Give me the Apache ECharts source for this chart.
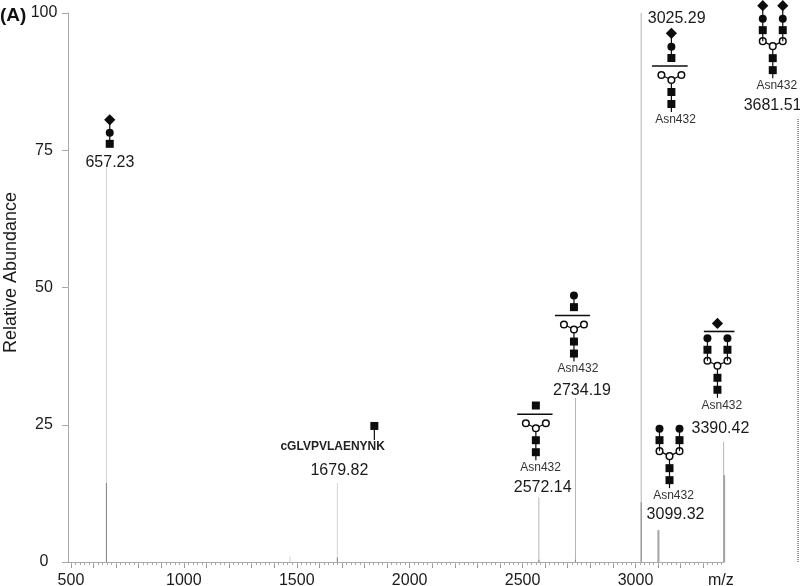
<!DOCTYPE html>
<html>
<head>
<meta charset="utf-8">
<style>html,body{margin:0;padding:0;background:#fff}#c{width:800px;height:586px}</style>
<script src="https://cdn.jsdelivr.net/npm/echarts@6/dist/echarts.min.js"></script>
</head>
<body>
<div id="c"></div>
<script>
// ---- data ----
const allMz       = [657.23, 1679.82, 2572.14, 2734.19, 3025.29, 3099.32, 3390.42];
const allTop      = [71.8, 14.4, 11.8, 29.9, 100, 5.8, 21.9];
const faintMz     = [657.23, 1679.82];
const faintTop    = [71.8, 14.4];
const plainMz     = [2572.14, 2734.19, 3025.29, 3390.42];
const plainTop    = [11.8, 29.9, 100, 21.9];
const baseMz      = [657.23, 1679.82, 2572.14, 2734.19, 3025.29];
const baseTop     = [14.4, 0.8, 0.4, 0.4, 10.9];
const thickMz     = [3099.32, 3390.42];
const thickTop    = [5.8, 15.8];
const minorMz     = [1470];
const minorTop    = [1.0];
const brokenMz    = [3681.51];
const brokenTop   = [80.9];
const peakLabels  = ['657.23','1679.82','2572.14','2734.19','3025.29','3099.32','3390.42','3681.51'];
const xTickLabels = [500, 1000, 1500, 2000, 2500, 3000];
const siteName    = 'Asn432';
const peptideName = 'cGLVPVLAENYNK';
const glycanKinds = ['linear','peptide','coreSq','coreSqCirc','coreFull','bi','biDia','biDiaDia'];

// ---- annotation layout (pixel offsets from each peak's top) ----
const layout = [
  {g:[3.3,-16],  label:[3.5,-5.5]},
  {g:[37,-43],   label:[2,-12.5], pep:[-4.7,-36]},
  {g:[-3,-37],   label:[3.8,-9.8], site:[1.7,-29.3], bar:[-18.7,16.7]},
  {g:[-1.5,-36.3], label:[6.5,-6.8], site:[2.5,-29], bar:[-19,16]},
  {g:[30.2,99],  label:[35.5,5.2], site:[34.3,107], bar:[-19.4,16.3]},
  {g:[11.6,-42], label:[17.6,-15.2], site:[15.6,-34], bar:[0,0]},
  {g:[-6.2,-44], label:[-3.2,-13.2], site:[-1.8,-36.3], bar:[-13.6,17]},
  {g:[-25.3,-39.7], label:[-25.5,-11.8], site:[-21.3,-32]}
];

const INK = '#0c0c0c';
const square = (x,y) => ({type:'rect',shape:{x:x-4,y:y-4,width:8,height:8},style:{fill:INK}});
const dot = (x,y) => ({type:'circle',shape:{cx:x,cy:y,r:4},style:{fill:INK}});
const ring = (x,y) => ({type:'circle',shape:{cx:x,cy:y,r:3.3},style:{fill:'#fff',stroke:INK,lineWidth:1.5}});
const dia = (x,y) => ({type:'polygon',shape:{points:[[x,y-5.6],[x+5.6,y],[x,y+5.6],[x-5.6,y]]},style:{fill:INK}});
const seg = (a,b,c,d,w) => ({type:'line',shape:{x1:a,y1:b,x2:c,y2:d},style:{stroke:INK,lineWidth:w||1.2}});
const txt = (s,x,y,size,weight,fill) => ({type:'text',style:{text:s,x:x,y:y,fontSize:size,fontWeight:weight||'normal',
  fontFamily:"'Liberation Sans',Arial,sans-serif",fill:fill||'#1a1a1a',align:'center',verticalAlign:'middle'}});

function core(x,y){
  return [
    seg(x,y,x,y-32), seg(x,y-32,x-10,y-37), seg(x,y-32,x+10,y-37),
    square(x,y-8), square(x,y-20), ring(x,y-32), ring(x-10,y-37), ring(x+10,y-37)
  ];
}
function arms(x,y,topDia){
  const out = [];
  [-10,10].forEach(d=>{
    out.push(seg(x+d,y-37,x+d,y-(topDia?72:59)), square(x+d,y-48), dot(x+d,y-59.5));
    if(topDia) out.push(dia(x+d,y-72.5));
  });
  return out;
}
function glycan(kind,x,y,L){
  let e = [];
  const bar = () => seg(x+L.bar[0],y-46,x+L.bar[1],y-46,1.6);
  if(kind==='linear'){
    e=[seg(x,y-8,x,y-32),square(x,y-8),dot(x,y-19),dia(x,y-32)];
  }else if(kind==='peptide'){
    e=[seg(x,y,x,y-14),square(x,y-14)];
  }else if(kind==='coreSq'){
    e=core(x,y).concat([bar(),square(x,y-54.7)]);
  }else if(kind==='coreSqCirc'){
    e=core(x,y).concat([bar(),seg(x,y-54,x,y-66),square(x,y-54.4),dot(x,y-66)]);
  }else if(kind==='coreFull'){
    e=core(x,y).concat([bar(),seg(x,y-54,x,y-79),square(x,y-54),dot(x,y-65.3),dia(x,y-78.7)]);
  }else if(kind==='bi'){
    e=core(x,y).concat(arms(x,y,false));
  }else if(kind==='biDia'){
    e=core(x,y).concat(arms(x,y,false),[seg(x+L.bar[0],y-66.3,x+L.bar[1],y-66.3,1.6),dia(x,y-74.3)]);
  }else if(kind==='biDiaDia'){
    e=core(x,y).concat(arms(x,y,true));
  }
  return e;
}
function renderAnnot(params,api){
  const i = api.value(2);
  const p = api.coord([api.value(0),api.value(1)]);
  const L = layout[i];
  const kids = glycan(glycanKinds[i],p[0]+L.g[0],p[1]+L.g[1],L);
  kids.push(txt(peakLabels[i],p[0]+L.label[0],p[1]+L.label[1],16));
  if(L.site) kids.push(txt(siteName,p[0]+L.site[0],p[1]+L.site[1],12,'normal','#333'));
  if(L.pep) kids.push(txt(peptideName,p[0]+L.pep[0],p[1]+L.pep[1],12,'bold','#222'));
  return {type:'group',children:kids};
}

const majorTicks = [], minorTicks = [];
for(let v=500;v<=3300;v+=100) majorTicks.push(v);
for(let v=500;v<=3380;v+=20) minorTicks.push(v);

const AXIS = '#a8a8a8';
const FONT = "'Liberation Sans',Arial,sans-serif";
const chart = echarts.init(document.getElementById('c'),null,{renderer:'canvas'});
const pairs = (a,b) => a.map((m,i)=>[m,b[i]]);
const stick = (name,xs,ys,color,width) => ({type:'bar',name:name,xAxisIndex:0,yAxisIndex:0,barWidth:width,barGap:'-100%',
  itemStyle:{color:color},data:pairs(xs,ys)});
chart.setOption({
  animation:false,
  backgroundColor:'#fff',
  grid:[
    {left:68,width:656,top:13,height:549,outerBoundsMode:'none',containLabel:false},
    {left:724,width:77,top:13,height:549,outerBoundsMode:'none',containLabel:false}
  ],
  xAxis:[
    {type:'value',gridIndex:0,position:'bottom',min:487,max:3392,splitLine:{show:false},
     axisLine:{lineStyle:{color:AXIS}},
     axisTick:{customValues:majorTicks,length:6,lineStyle:{color:'#999'}},
     axisLabel:{customValues:xTickLabels,margin:11,fontSize:16,fontFamily:FONT,color:'#1a1a1a',formatter:v=>String(v),hideOverlap:false}},
    {type:'value',gridIndex:0,position:'bottom',min:487,max:3392,splitLine:{show:false},
     axisLine:{show:false},
     axisTick:{customValues:minorTicks,length:3,lineStyle:{color:'#aaa'}},
     axisLabel:{show:false}},
    {type:'value',gridIndex:1,min:3392,max:3693,show:false}
  ],
  yAxis:[
    {type:'value',gridIndex:0,min:0,max:100,interval:25,splitLine:{show:false},
     name:'Relative Abundance',nameLocation:'middle',nameGap:48,
     nameTextStyle:{fontSize:18,fontFamily:FONT,color:'#1a1a1a',padding:[0,0,0,30]},
     axisLine:{show:true,lineStyle:{color:AXIS}},
     axisTick:{show:true,length:6,lineStyle:{color:AXIS}},
     axisLabel:{margin:24,align:'center',fontSize:16,fontFamily:FONT,color:'#1a1a1a'}},
    {type:'value',gridIndex:1,min:0,max:100,show:false}
  ],
  series:[
    stick('faint',faintMz,faintTop,'#d4d4d4',1),
    stick('plain',plainMz,plainTop,'#b4b4b4',1),
    stick('base',baseMz,baseTop,'#858585',1),
    stick('thick',thickMz,thickTop,'#a4a4a4',2),
    stick('minor',minorMz,minorTop,'#cfcfcf',1),
    {type:'line',name:'broken',xAxisIndex:2,yAxisIndex:1,symbol:'none',
     lineStyle:{color:'#333',width:1,type:[1,1]},
     data:[[brokenMz[0],0],[brokenMz[0],brokenTop[0]]]},
    {type:'custom',xAxisIndex:0,yAxisIndex:0,renderItem:renderAnnot,data:allMz.map((m,i)=>[m,allTop[i],i]),silent:true,z:5},
    {type:'custom',xAxisIndex:2,yAxisIndex:1,renderItem:renderAnnot,data:[[brokenMz[0],brokenTop[0],7]],silent:true,z:5}
  ],
  graphic:[
    {type:'text',left:0,top:6,style:{text:'(A)',fontSize:19,fontWeight:'bold',fontFamily:FONT,fill:'#111'}},
    {type:'text',left:708,top:573,style:{text:'m/z',fontSize:16,fontFamily:FONT,fill:'#1a1a1a'}}
  ]
});
</script>
</body>
</html>
